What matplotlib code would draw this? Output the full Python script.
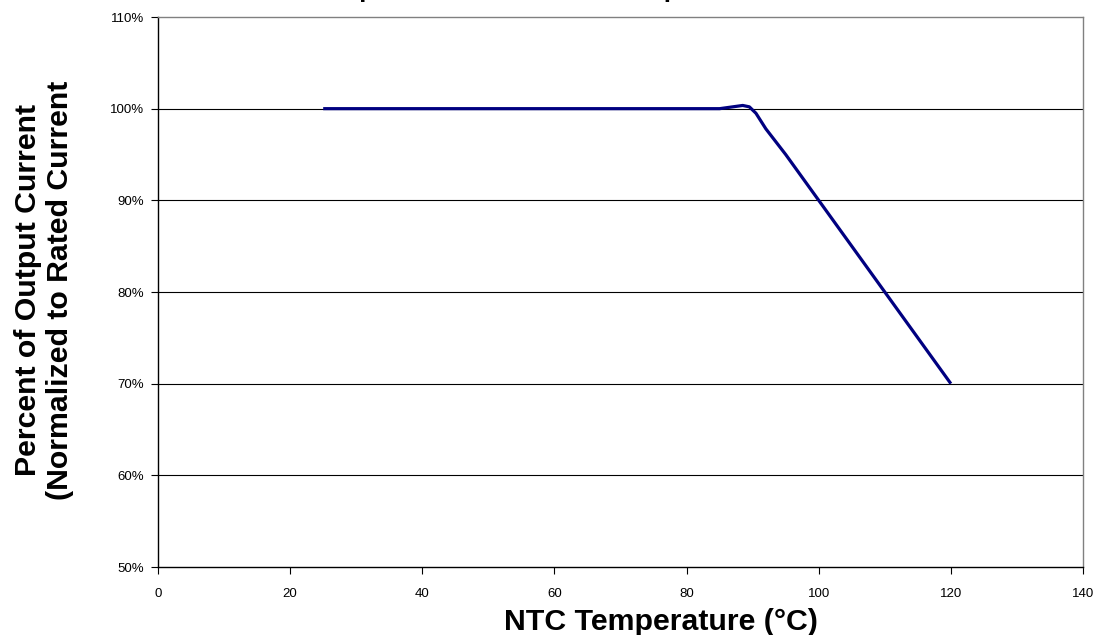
import matplotlib.pyplot as plt
from matplotlib.ticker import FuncFormatter

plt.rcParams['font.family'] = ['Liberation Sans', 'DejaVu Sans']

temps = [25, 85, 87, 88.5, 89.5, 90.5, 92, 95, 100, 110, 120]
current = [100, 100, 100.2, 100.35, 100.2, 99.5, 97.8, 95, 90, 80, 70]

x_ticks = [0, 20, 40, 60, 80, 100, 120, 140]
y_ticks = [50, 60, 70, 80, 90, 100, 110]

fig = plt.figure(figsize=(10.99, 6.35), dpi=100)
ax = fig.add_axes([158 / 1099, 1 - 567 / 635, (1083 - 158) / 1099, (567 - 17) / 635])

ax.plot(temps, current, color='#000080', linewidth=2.3, solid_capstyle='butt')

ax.set_xlim(0, 140)
ax.set_ylim(50, 110)
ax.set_xticks(x_ticks)
ax.set_yticks(y_ticks)
ax.yaxis.set_major_formatter(FuncFormatter(lambda v, p: f"{v:.0f}%"))
for y in y_ticks[1:-1]:
    ax.axhline(y, color='black', linewidth=0.8, zorder=0)

ax.tick_params(axis='both', labelsize=9.5, direction='out', length=5, width=0.8)
ax.tick_params(axis='x', pad=10)
ax.tick_params(axis='y', pad=5)
ax.spines['left'].set_color('black')
ax.spines['bottom'].set_color('black')
ax.spines['top'].set_color('#808080')
ax.spines['right'].set_color('#808080')
for s in ax.spines.values():
    s.set_linewidth(1.0)

fig.text(661 / 1099, 1 - 630 / 635, "NTC Temperature (°C)", ha='center', va='baseline',
         fontsize=21.8, fontweight='bold')
fig.text(44 / 1099, 1 - 290 / 635, "Percent of Output Current\n(Normalized to Rated Current",
         ha='center', va='center', rotation=90, multialignment='center',
         fontsize=21.8, fontweight='bold', linespacing=1.15)

# title sits above the canvas, only its descenders show
fig.text(541 / 1099, 1.0047, "Output Current vs. NTC Temperature", ha='center', va='baseline',
         fontsize=18.7, fontweight='bold')

fig.savefig("out.png", dpi=100)
